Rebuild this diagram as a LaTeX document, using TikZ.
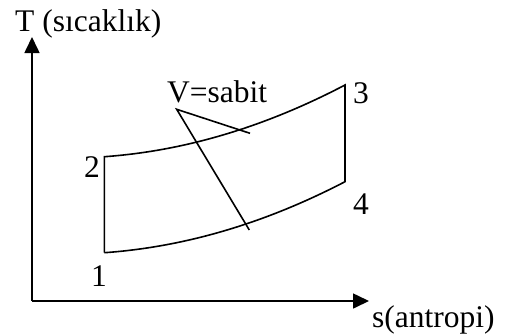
\documentclass[tikz,border=0pt]{standalone}
\usepackage{fontspec}
\setmainfont{Liberation Serif}
\usetikzlibrary{arrows.meta}

\tikzset{
  lbl/.style={anchor=base west,inner sep=0pt,font=\fontsize{31.5}{36}\selectfont},
  axis/.style={line width=1.6pt,-{Triangle[length=16pt,width=15pt]}},
  cyc/.style={line width=1.6pt,line join=miter}
}

\begin{document}
\begin{tikzpicture}[x=1pt,y=-1pt]
  \useasboundingbox (0,0) rectangle (508,333);
  % axes
  \coordinate (O) at (32,301);
  \coordinate (Tend) at (32,37);
  \coordinate (Send) at (369,301);
  \draw[axis] (O) -- (Tend);
  \draw[axis] (O) -- (Send);
  \node[lbl] (Tlbl) at (15,31) {T (sıcaklık)};
  \node[lbl] (Slbl) at (372,327) {s(antropi)};
  % cycle corners
  \coordinate (p1) at (104.3,252.7);
  \coordinate (p2) at (104.3,156.7);
  \coordinate (p3) at (345,85);
  \coordinate (p4) at (345,181.7);
  \draw[cyc] (p1) -- (p2) .. controls (184.5,151) and (264.8,127) .. (p3)
     -- (p4) .. controls (264.8,223.4) and (184.5,247) .. (p1);
  \node[lbl] (n1) at (91,286) {1};
  \node[lbl] (n2) at (84,177) {2};
  \node[lbl] (n3) at (353,103) {3};
  \node[lbl] (n4) at (353,214) {4};
  % constant volume
  \coordinate (vtip) at (176.7,109.3);
  \coordinate (vlow) at (249.3,230);
  \coordinate (vup) at (250,133.3);
  \draw[line width=1.6pt] (vlow) -- (vtip) -- (vup);
  \node[lbl] (vlbl) at (167,102.7) {V=sabit};
\end{tikzpicture}
\end{document}
